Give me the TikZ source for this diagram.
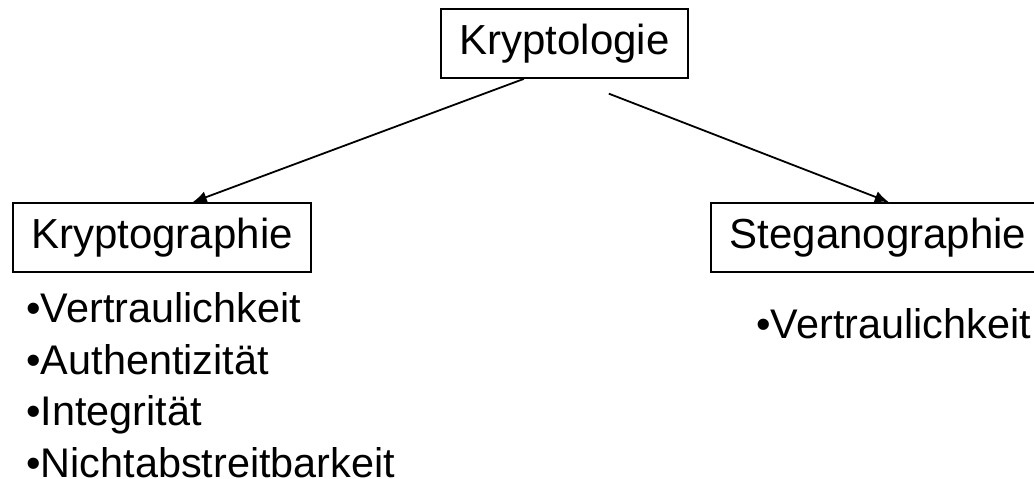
\documentclass[tikz,border=0pt]{standalone}
\usepackage{fontspec}
\setmainfont{Liberation Sans}
\usetikzlibrary{arrows.meta, positioning}

\begin{document}
\begin{tikzpicture}[x=0.5pt, y=-0.5pt,
    topic/.style={draw, line width=0.9pt, minimum height=34.5pt, inner sep=0pt,
                  font=\fontsize{21}{25}\selectfont},
    bullets/.style={align=left, inner sep=0pt, anchor=base west,
                    font=\fontsize{20.7}{25.75}\selectfont},
    link/.style={line width=0.9pt, -{Latex[length=7pt,width=6pt]}}]
\useasboundingbox (0,0) rectangle (1034,478);

\node[topic, minimum width=123.5pt] (kryptologie) at (564.5,43.5) {Kryptologie};
\node[topic, minimum width=149pt] (kryptographie) at (162,237.5) {Kryptographie};
\node[topic, minimum width=167pt] (steganographie) at (878,237.5) {Steganographie};

% base of a multi-line node = baseline of its last line
\node[bullets] (zieleKG) at (26,477) {•Vertraulichkeit\\•Authentizität\\•Integrität\\•Nichtabstreitbarkeit};
\node[bullets] (zieleSG) at (756,338) {•Vertraulichkeit};

\draw[link] (kryptologie.221) -- (kryptographie.49);
\draw[link, shorten <=20.4pt] (kryptologie.280.7) -- (steganographie.73.8);
\end{tikzpicture}
\end{document}
